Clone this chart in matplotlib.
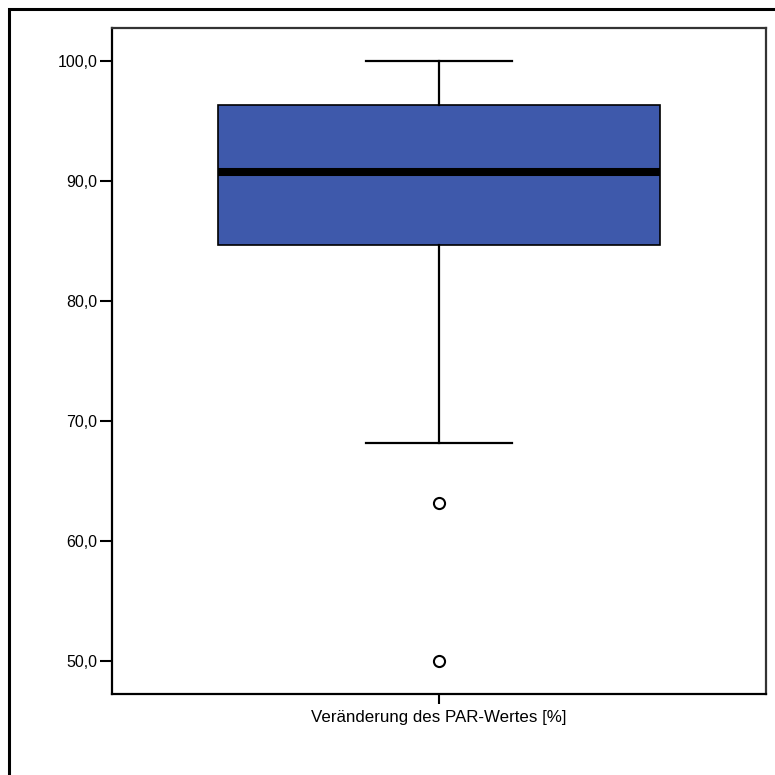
import numpy as np
import matplotlib.pyplot as plt
from matplotlib.patches import Rectangle

plt.rcParams['font.family'] = ['Liberation Sans', 'DejaVu Sans']

# box statistics
label = 'Veränderung des PAR-Wertes [%]'
q1 = 84.66
med = 90.77
q3 = 96.33
whislo = 68.18
whishi = 100.0
fliers = [63.12, 50.0]

yticks = [50, 60, 70, 80, 90, 100]
yticklabels = ['50,0', '60,0', '70,0', '80,0', '90,0', '100,0']

stats = [dict(label=label, q1=q1, med=med, q3=q3,
              whislo=whislo, whishi=whishi, fliers=fliers)]

fig = plt.figure(figsize=(7.75, 7.75), dpi=100)
ax = fig.add_axes([112/775, 1-694/775, 654/775, 666/775])

ax.bxp(stats, positions=[1], widths=0.676, capwidths=0.223,
       patch_artist=True,
       boxprops=dict(facecolor='#3E59AB', edgecolor='black', linewidth=1.2),
       medianprops=dict(color='black', linewidth=5.8, solid_capstyle='butt'),
       whiskerprops=dict(color='black', linewidth=1.6),
       capprops=dict(color='black', linewidth=1.6),
       flierprops=dict(marker='o', markerfacecolor='white',
                       markeredgecolor='black', markersize=8,
                       markeredgewidth=1.5))

ax.set_xlim(0.5, 1.5)
ax.set_ylim(47.22, 102.75)
ax.set_yticks(yticks)
ax.set_yticklabels(yticklabels)
ax.set_xticks([1])
ax.set_xticklabels([label])
ax.tick_params(axis='y', length=8.5, width=1.5, labelsize=11.5, pad=2)
ax.tick_params(axis='x', length=7.5, width=1.5, labelsize=12.2, pad=4)

for s in ['left', 'bottom']:
    ax.spines[s].set_linewidth(1.6)
for s in ['top', 'right']:
    ax.spines[s].set_linewidth(1.6)
    ax.spines[s].set_color('#333333')

# outer chart frame (only the top and left edges fall inside the image)
fig.add_artist(Rectangle((8.5/775, -0.1), 1.2, 1 - 9/775 + 0.1,
                         transform=fig.transFigure, fill=False,
                         edgecolor='black', linewidth=2.2))

fig.savefig('out.png', dpi=100)
